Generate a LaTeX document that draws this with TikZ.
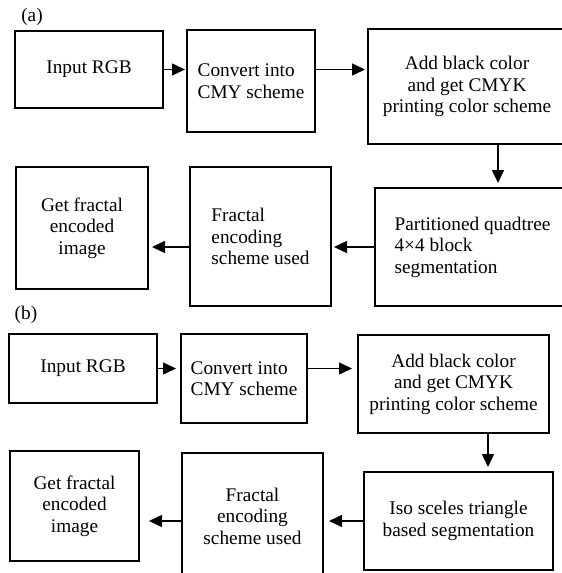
\documentclass[tikz,border=0pt]{standalone}
\usepackage{fontspec}
\setmainfont{Liberation Serif}
\usepackage{tikz}
\usetikzlibrary{arrows.meta,positioning,calc}

\begin{document}
\begin{tikzpicture}[x=1pt, y=-1pt,
        box/.style={rectangle, draw=black, line width=1.3pt, inner sep=0pt,
                    outer sep=0pt, align=center,
                    font=\fontsize{19.3}{21.5}\selectfont},
        lbl/.style={inner sep=0pt, font=\fontsize{19.3}{21.5}\selectfont},
        arr/.style={-{Triangle[length=13pt,width=12pt]}, line width=1.5pt,
                    shorten >=#1},
        arr/.default=3pt,
      ]
      \useasboundingbox (0,0) rectangle (562,573);
      % (a)
      \node[lbl] (labA) at (32,17) {(a)};
      \node[box, minimum width=148pt, minimum height=77pt] (inA) at (89,69.5)
        {Input RGB};
      \node[box, minimum width=128pt, minimum height=102pt, align=left] (cmyA) at (251,81)
        {Convert into\\CMY scheme};
      \node[box, minimum width=198pt, minimum height=115pt] (cmykA) at (467,86.5)
        {Add black color\\and get CMYK\\printing color scheme};
      \node[box, minimum width=195pt, minimum height=118pt, align=left] (segA) at (472.5,247)
        {Partitioned quadtree\\4×4 block\\segmentation};
      \node[box, minimum width=141pt, minimum height=139pt, align=left] (encA) at (260.5,236.5)
        {Fractal\\encoding\\scheme used};
      \node[box, minimum width=132pt, minimum height=122pt] (outA) at (82,228)
        {Get fractal\\encoded\\image};
      \draw[arr=2pt] (inA.east) -- (inA.east -| cmyA.west);
      \draw[arr=3pt] (inA.east -| cmyA.east) -- (inA.east -| cmykA.west);
      \draw[arr=5pt] ([xshift=31pt]cmykA.south) -- ([xshift=31pt]cmykA.south |- segA.north);
      \draw[arr=3pt] (segA.west) -- (segA.west -| encA.east);
      \draw[arr=4pt] (encA.west |- segA.west) -- (segA.west -| outA.east);
      % (b)
      \node[lbl] (labB) at (26,315) {(b)};
      \node[box, minimum width=148pt, minimum height=69pt] (inB) at (83,368.5)
        {Input RGB};
      \node[box, minimum width=126pt, minimum height=89pt, align=left] (cmyB) at (244,378.5)
        {Convert into\\CMY scheme};
      \node[box, minimum width=191pt, minimum height=98pt] (cmykB) at (453.5,384)
        {Add black color\\and get CMYK\\printing color scheme};
      \node[box, minimum width=189pt, minimum height=98pt] (segB) at (458.5,521)
        {Iso sceles triangle\\based segmentation};
      \node[box, minimum width=141pt, minimum height=126pt] (encB) at (252.5,516)
        {Fractal\\encoding\\scheme used};
      \node[box, minimum width=129pt, minimum height=110pt] (outB) at (74.5,506)
        {Get fractal\\encoded\\image};
      \draw[arr=5pt] (inB.east) -- (inB.east -| cmyB.west);
      \draw[arr=6pt] (inB.east -| cmyB.east) -- (inB.east -| cmykB.west);
      \draw[arr=5pt] ([xshift=34.5pt]cmykB.south) -- ([xshift=34.5pt]cmykB.south |- segB.north);
      \draw[arr=6pt] (segB.west) -- (segB.west -| encB.east);
      \draw[arr=10pt] (encB.west |- segB.west) -- (segB.west -| outB.east);
    \end{tikzpicture}
\end{document}
